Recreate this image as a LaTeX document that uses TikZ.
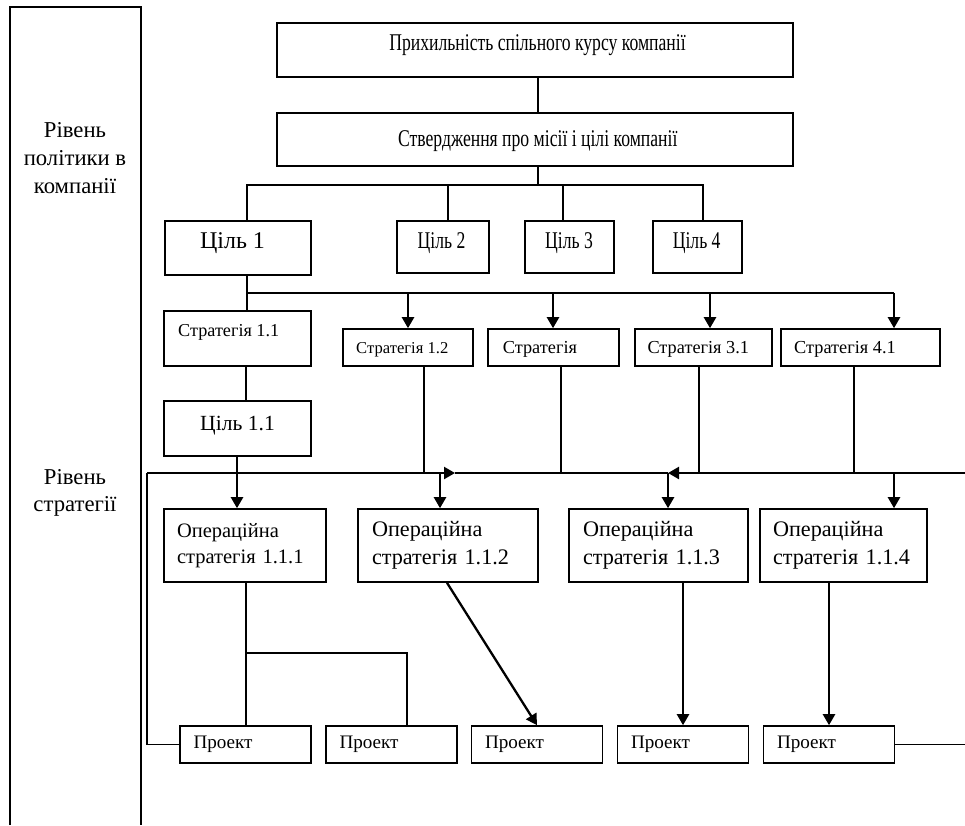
\documentclass[tikz,border=0pt]{standalone}
\usepackage{fontspec}
\setmainfont{Liberation Serif}
\usepackage{graphicx}
\usetikzlibrary{arrows.meta}
\newcommand\cond[1]{\scalebox{0.735}[1]{#1}}
\newcommand\fsz[2]{\fontsize{#1}{#2}\selectfont}
\begin{document}
\begin{tikzpicture}[x=1pt,y=-1pt,
  box/.style={draw, line width=1.6pt, inner sep=0pt},
  lbox/.style={box, align=left},
  txt/.style={inner sep=0pt, anchor=base},
  ltxt/.style={inner sep=0pt, anchor=base west},
  conn/.style={line width=1.3pt},
  arr/.style={line width=2.3pt, -{Triangle[length=11pt,width=12pt]}}]
\useasboundingbox[fill=white] (0,0) rectangle (965,825);

% left column
\draw[line width=1.5pt] (10,825) -- (10,7) -- (141,7) -- (141,825);
\node[align=center, inner sep=0pt, font=\fsz{22.7}{28}] (L1) at (75,158) {Рівень\\політики в\\компанії};
\node[align=center, inner sep=0pt, font=\fsz{22.7}{27}] (L2) at (75,493) {Рівень\\стратегії};

% top boxes
\node[box, minimum width=516pt, minimum height=54pt] (T1) at (535,50) {};
\node[txt, font=\fsz{24}{28}] (T1t) at (537.5,50) {\cond{Прихильність спільного курсу компанії}};
\node[box, minimum width=516pt, minimum height=53pt] (T2) at (535,139.5) {};
\node[txt, font=\fsz{24}{28}] (T2t) at (537.8,146.7) {\cond{Ствердження про місії і цілі компанії}};

% goals
\node[box, minimum width=146pt, minimum height=54pt] (G1) at (238,248) {};
\node[txt, font=\fsz{24}{28}] (G1t) at (232.5,248) {Ціль 1};
\node[box, minimum width=92pt, minimum height=52pt] (G2) at (443,247) {};
\node[txt, font=\fsz{24}{28}] (G2t) at (441.5,248) {\cond{Ціль 2}};
\node[box, minimum width=89pt, minimum height=52pt] (G3) at (569.5,247) {};
\node[txt, font=\fsz{24}{28}] (G3t) at (569,248) {\cond{Ціль 3}};
\node[box, minimum width=89pt, minimum height=52pt] (G4) at (697.5,247) {};
\node[txt, font=\fsz{24}{28}] (G4t) at (696.7,248) {\cond{Ціль 4}};

% strategies
\node[box, minimum width=147pt, minimum height=55pt] (S11) at (237.5,338.5) {};
\node[ltxt, font=\fsz{18.2}{22}] (S11t) at (178,336.7) {Стратегія 1.1};
\node[box, minimum width=130pt, minimum height=37pt] (S12) at (408,347.5) {};
\node[ltxt, font=\fsz{16.6}{20}] (S12t) at (356,353.3) {Стратегія 1.2};
\node[box, minimum width=131pt, minimum height=37pt] (S2) at (553.5,347.5) {};
\node[ltxt, font=\fsz{18.3}{22}] (S2t) at (502.7,353.3) {Стратегія};
\node[box, minimum width=137pt, minimum height=37pt] (S31) at (703.5,347.5) {};
\node[ltxt, font=\fsz{18.3}{22}] (S31t) at (647.3,353.3) {Стратегія 3.1};
\node[box, minimum width=159pt, minimum height=37pt] (S41) at (860.5,347.5) {};
\node[ltxt, font=\fsz{18.3}{22}] (S41t) at (794,353.3) {Стратегія 4.1};

\node[box, minimum width=147pt, minimum height=55pt] (G11) at (237.5,428.5) {};
\node[ltxt, font=\fsz{21.6}{26}] (G11t) at (200,430) {Ціль 1.1};

% operational strategies
\node[lbox, minimum width=162pt, minimum height=73pt, inner xsep=13pt, text width=136pt, font=\fsz{20.5}{26}] (O1) at (245,545.5) {Операційна\\стратегія 1.1.1};
\node[lbox, minimum width=180pt, minimum height=73pt, inner xsep=14pt, text width=152pt, font=\fsz{22.2}{28}] (O2) at (448,545.5) {Операційна\\стратегія 1.1.2};
\node[lbox, minimum width=179pt, minimum height=73pt, inner xsep=14pt, text width=151pt, font=\fsz{22.2}{28}] (O3) at (658.5,545.5) {Операційна\\стратегія 1.1.3};
\node[lbox, minimum width=167pt, minimum height=73pt, inner xsep=13pt, text width=141pt, font=\fsz{22.2}{28}] (O4) at (843.5,545.5) {Операційна\\стратегія 1.1.4};

% projects
\tikzset{pbox/.style={lbox, minimum width=131pt, minimum height=37pt, inner xsep=13.5pt, text width=104pt, font=\fsz{19.1}{23}}}
\node[pbox] (P1) at (245.5,744.5) {Проект};
\node[pbox] (P2) at (391.5,744.5) {Проект};
\node[pbox] (P3) at (537,744.5) {Проект};
\node[pbox] (P4) at (683,744.5) {Проект};
\node[pbox] (P5) at (829,744.5) {Проект};

% connectors, top part
\draw[conn] (538,0 |- T1.south) -- (538,0 |- T2.north);
\draw[conn] (538,0 |- T2.south) -- (538,185);
\draw[conn] (247,0 |- G1.north) |- (703,185) -- (703,0 |- G4.north);
\draw[conn] (448,185) -- (448,0 |- G2.north);
\draw[conn] (563,185) -- (563,0 |- G3.north);

% goal 1 to strategies
\draw[conn] (247,0 |- G1.south) -- (247,0 |- S11.north);
\coordinate (b2l) at (247,293);
\coordinate (b2r) at (894,293);
\draw[conn] (b2l) -- (b2r);
\draw[arr] (408,293) -- (408,0 |- S12.north);
\draw[arr] (553,293) -- (553,0 |- S2.north);
\draw[arr] (710,293) -- (710,0 |- S31.north);
\draw[arr] (b2r) -- (894,0 |- S41.north);
\draw[conn] (246,0 |- S11.south) -- (246,0 |- G11.north);

% strategies down to the main line
\draw[conn] (424,0 |- S12.south) -- (424,473);
\draw[conn] (561,0 |- S2.south) -- (561,473);
\draw[conn] (699,0 |- S31.south) -- (699,473);
\draw[conn] (854,0 |- S41.south) -- (854,473);

% main line
\coordinate (mL) at (147,473);
\coordinate (mA) at (455,473);
\coordinate (mB) at (668,473);
\coordinate (mR) at (965,473);
\draw[conn] (P1.west) -| (mL);
\draw[arr] (mL) -- (mA);
\draw[conn] (mA) -- (mB);
\draw[arr] (mR) -- (mB);
\draw[conn] (P5.east) -- (965,0 |- P5.east);

% down to operational strategies
\draw[arr] (237,0 |- G11.south) -- (237,0 |- O1.north);
\draw[arr] (440,473) -- (440,0 |- O2.north);
\draw[arr] (mB) -- (668,0 |- O3.north);
\draw[arr] (894,473) -- (894,0 |- O4.north);

% operational strategies to projects
\draw[conn] (246,0 |- O1.south) -- (246,0 |- P1.north);
\draw[conn] (246,653) -| (407,0 |- P2.north);
\draw[arr] (447,0 |- O2.south) -- (P3.north);
\draw[arr] (683,0 |- O3.south) -- (P4.north);
\draw[arr] (829,0 |- O4.south) -- (P5.north);
\end{tikzpicture}
\end{document}
